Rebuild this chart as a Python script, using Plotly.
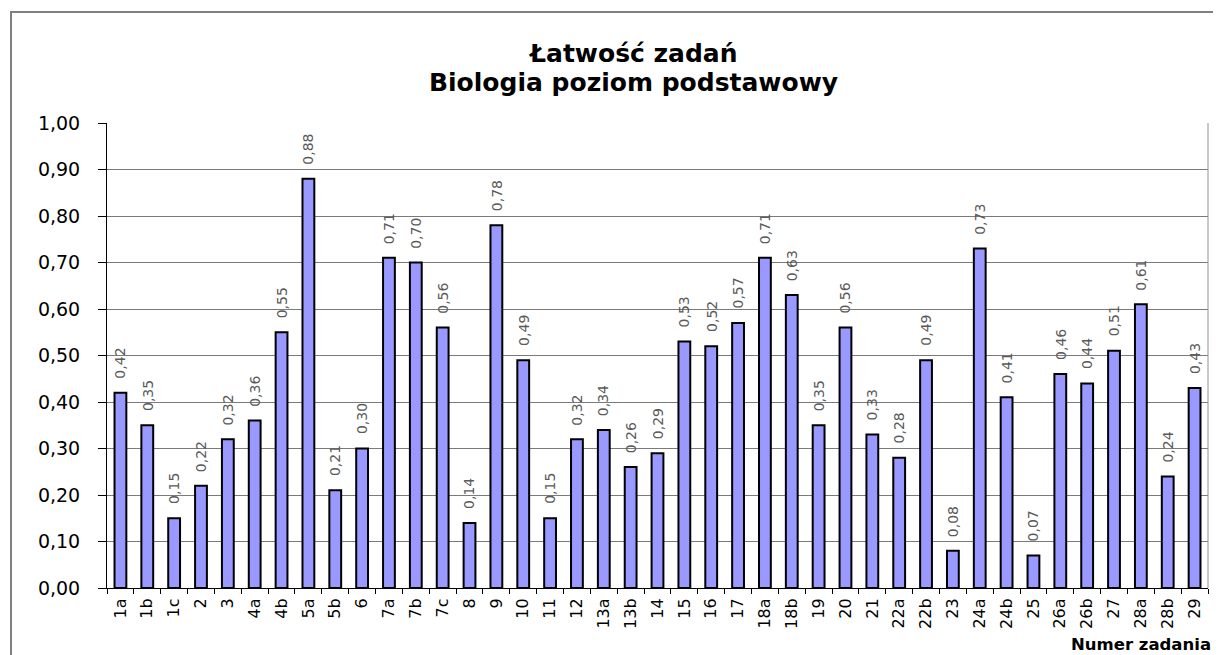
import plotly.graph_objects as go

categories = ["1a", "1b", "1c", "2", "3", "4a", "4b", "5a", "5b", "6", "7a", "7b", "7c",
              "8", "9", "10", "11", "12", "13a", "13b", "14", "15", "16", "17", "18a", "18b",
              "19", "20", "21", "22a", "22b", "23", "24a", "24b", "25", "26a", "26b", "27",
              "28a", "28b", "29"]
values = [0.42, 0.35, 0.15, 0.22, 0.32, 0.36, 0.55, 0.88, 0.21, 0.30, 0.71, 0.70, 0.56,
          0.14, 0.78, 0.49, 0.15, 0.32, 0.34, 0.26, 0.29, 0.53, 0.52, 0.57, 0.71, 0.63,
          0.35, 0.56, 0.33, 0.28, 0.49, 0.08, 0.73, 0.41, 0.07, 0.46, 0.44, 0.51,
          0.61, 0.24, 0.43]
y_ticks = [0.0, 0.1, 0.2, 0.3, 0.4, 0.5, 0.6, 0.7, 0.8, 0.9, 1.0]
y_tick_labels = [f"{v:.2f}".replace(".", ",") for v in y_ticks]
bar_labels = [f"{v:.2f}".replace(".", ",") for v in values]
title_lines = ["Łatwość zadań", "Biologia poziom podstawowy"]
x_title = "Numer zadania"

# page has an 8px body margin; positions below are in figure pixels
W, H = 1213, 647
L, R, T, B = 99, 13, 115, 67
pw = W - L - R
ph = H - T - B


def px_x(px):
    return (px - L) / pw


def px_y(py):
    return (H - B - py) / ph


FONT = "DejaVu Sans"

fig = go.Figure()
fig.add_trace(go.Bar(
    x=categories, y=values,
    marker=dict(color="#9999FF", line=dict(color="#000000", width=2)),
    width=0.44,
    hoverinfo="x+y",
))

annotations = []
for i, (v, t) in enumerate(zip(values, bar_labels)):
    annotations.append(dict(
        x=i, y=v, xref="x", yref="y", text=t, textangle=-90,
        showarrow=False, xanchor="center", yanchor="bottom", yshift=12,
        font=dict(family=FONT, size=14, color="#5a5a5a"),
    ))

annotations.append(dict(text=title_lines[0], xref="paper", yref="paper",
                        x=px_x(625), y=px_y(46), xanchor="center", yanchor="middle",
                        showarrow=False,
                        font=dict(family=FONT, size=25, color="#000000", weight="bold")))
annotations.append(dict(text=title_lines[1], xref="paper", yref="paper",
                        x=px_x(625), y=px_y(74), xanchor="center", yanchor="middle",
                        showarrow=False,
                        font=dict(family=FONT, size=25, color="#000000", weight="bold")))
annotations.append(dict(text=x_title, xref="paper", yref="paper",
                        x=px_x(1205), y=px_y(636), xanchor="right", yanchor="middle",
                        showarrow=False,
                        font=dict(family=FONT, size=16.5, color="#000000", weight="bold")))

fig.update_layout(
    width=W, height=H,
    margin=dict(l=L, r=R, t=T, b=B),
    paper_bgcolor="white", plot_bgcolor="white",
    showlegend=False,
    xaxis=dict(
        type="category", tickangle=-90,
        tickfont=dict(family=FONT, size=16, color="#000000"),
        showline=True, linecolor="#000000", linewidth=1,
        ticks="outside", ticklen=5, tickcolor="#000000",
        tickson="boundaries", showgrid=False,
        ticklabelstandoff=3,
        range=[-0.5, len(categories) - 0.5],
    ),
    yaxis=dict(
        range=[0, 1.0], tickvals=y_ticks, ticktext=y_tick_labels,
        tickfont=dict(family=FONT, size=19, color="#000000"),
        showline=True, linecolor="#000000", linewidth=1,
        ticks="outside", ticklen=8, tickcolor="#000000",
        ticklabelstandoff=14,
        showgrid=True, gridcolor="#7a7a7a", gridwidth=1,
        zeroline=False,
    ),
    shapes=[
        dict(type="line", xref="paper", yref="paper", x0=1, x1=1, y0=0, y1=1,
             line=dict(color="#909090", width=1)),
        dict(type="rect", xref="paper", yref="paper",
             x0=px_x(3), x1=px_x(1225), y0=px_y(665), y1=px_y(4),
             line=dict(color="#808080", width=2), layer="below"),
    ],
    annotations=annotations,
)

fig.write_html("out.html")
